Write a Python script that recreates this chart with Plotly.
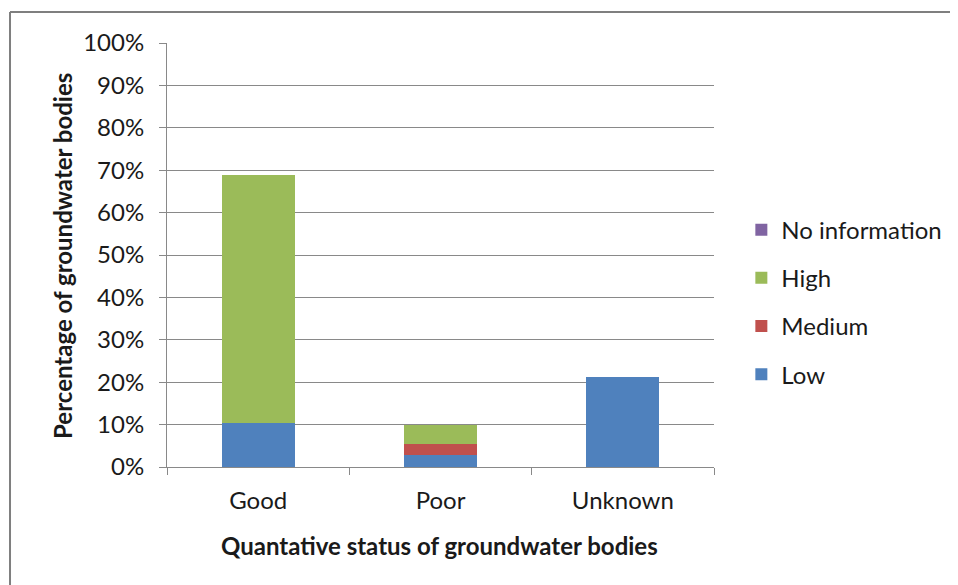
import plotly.graph_objects as go

categories = ["Good", "Poor", "Unknown"]
low = [0.103, 0.028, 0.212]
medium = [0.0, 0.027, 0.0]
high = [0.586, 0.043, 0.0]
no_information = [0.0, 0.0, 0.0]

series = [
    ("Low", low, "#4F81BD", 4),
    ("Medium", medium, "#C0504D", 3),
    ("High", high, "#9BBB59", 2),
    ("No information", no_information, "#8064A2", 1),
]

FONT = "Lato, 'Open Sans', sans-serif"
GRID = "#898989"
FRAME = dict(color="#7F7F7F", width=2)

fig = go.Figure()
for name, values, color, rank in series:
    fig.add_trace(
        go.Bar(
            x=categories,
            y=values,
            name=name,
            legendgroup=name,
            legendrank=rank,
            marker=dict(color=color, line=dict(width=0)),
        )
    )

# page body has an 8px margin, so the figure is a bit smaller and margins shifted
fig.update_layout(
    barmode="stack",
    bargap=0.6,
    width=950,
    height=577,
    margin=dict(l=159, r=244, t=35, b=118, autoexpand=False),
    plot_bgcolor="white",
    paper_bgcolor="white",
    font=dict(family=FONT, size=24, color="#1a1a1a"),
    legend=dict(
        x=1.05,
        y=0.389,
        yanchor="middle",
        tracegroupgap=14,
        font=dict(size=24),
        itemwidth=30,
    ),
    # chart frame: only the left and top edges are visible in the picture
    shapes=[
        dict(type="line", xref="paper", yref="paper",
             x0=-0.287, x1=-0.287, y0=-1, y1=1.073, line=FRAME, layer="below"),
        dict(type="line", xref="paper", yref="paper",
             x0=-0.287, x1=1.5, y0=1.073, y1=1.073, line=FRAME, layer="below"),
    ],
    annotations=[
        dict(
            text="<b>Percentage of groundwater bodies</b>",
            xref="paper",
            yref="paper",
            x=-0.19,
            y=0.498,
            xanchor="center",
            yanchor="middle",
            textangle=-90,
            showarrow=False,
            font=dict(size=24),
        ),
        dict(
            text="<b>Quantative status of groundwater bodies</b>",
            xref="paper",
            yref="paper",
            x=0.499,
            y=-0.184,
            xanchor="center",
            yanchor="middle",
            showarrow=False,
            font=dict(size=24),
        ),
    ],
)

fig.update_yaxes(
    range=[0, 1],
    tickformat=".0%",
    dtick=0.1,
    showgrid=True,
    gridcolor=GRID,
    gridwidth=1,
    showline=True,
    linecolor=GRID,
    ticks="outside",
    ticklen=7,
    tickcolor=GRID,
    ticklabelstandoff=10,
    zeroline=False,
    automargin=False,
    fixedrange=True,
)

fig.update_xaxes(
    showline=True,
    linecolor=GRID,
    ticks="outside",
    tickson="boundaries",
    ticklen=7,
    tickcolor=GRID,
    ticklabelstandoff=12,
    automargin=False,
    fixedrange=True,
)

fig.write_html("out.html")
